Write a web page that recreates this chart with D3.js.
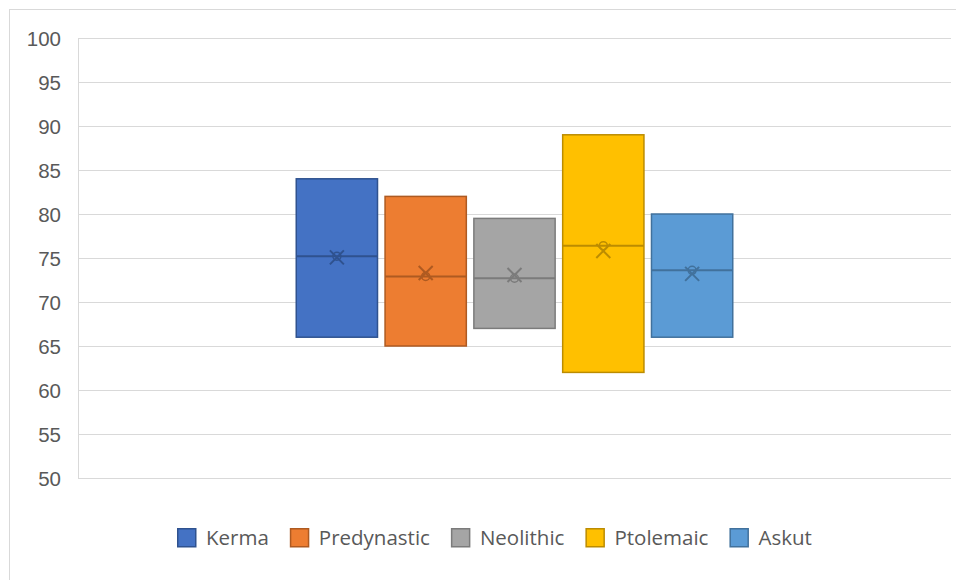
<!DOCTYPE html>
<html>
<head>
<meta charset="utf-8">
<script src="https://cdn.jsdelivr.net/npm/d3@7"></script>
<style>
  html, body { margin: 0; padding: 0; background: #fff; }
  svg { display: block; font-family: "Open Sans", "Noto Sans", sans-serif; }
</style>
</head>
<body>
<svg id="chart" width="956" height="580"></svg>
<script>
// Each series holds three observations (low, middle, high)
const seriesNames = ["Kerma", "Predynastic", "Neolithic", "Ptolemaic", "Askut"];
const lowValues    = [66, 65, 67, 62, 66];
const middleValues = [75.2, 72.9, 72.7, 76.4, 73.6];
const highValues   = [84, 82, 79.5, 89, 80];
const yTicks = [50, 55, 60, 65, 70, 75, 80, 85, 90, 95, 100];

const fills   = ["#4472C4", "#ED7D31", "#A5A5A5", "#FFC000", "#5B9BD5"];
const strokes = ["#2F528F", "#AE5A21", "#7B7B7B", "#BC8C00", "#41719C"];

const svg = d3.select("#chart");
const W = 956, H = 580;
const plot = { left: 78, right: 951, top: 38, bottom: 478 };

// Chart frame
svg.append("rect")
  .attr("x", 9.5).attr("y", 9.5)
  .attr("width", W + 10).attr("height", H + 10)
  .attr("fill", "#fff").attr("stroke", "#D9D9D9").attr("stroke-width", 1);

const y = d3.scaleLinear().domain([50, 100]).range([plot.bottom, plot.top]);

// One category slot spanning the plot; boxes share it side by side
const cat = d3.scaleBand().domain(["all"]).range([plot.left, plot.right]).paddingInner(0).paddingOuter(0.5);
const x = d3.scaleBand().domain(seriesNames)
  .range([cat("all"), cat("all") + cat.bandwidth()])
  .paddingInner(0.085).paddingOuter(0);

// Gridlines and value axis
const yAxis = d3.axisLeft(y).tickValues(yTicks).tickSize(-(plot.right - plot.left)).tickPadding(17);
const gy = svg.append("g").attr("transform", `translate(${plot.left},0)`).call(yAxis);
gy.select(".domain").remove();
gy.selectAll(".tick line").attr("stroke", "#D9D9D9").attr("stroke-width", 1)
  .attr("shape-rendering", "crispEdges");
gy.selectAll(".tick text").attr("fill", "#595959").attr("font-size", 20.5).attr("dy", "0.36em");
svg.append("line")
  .attr("x1", plot.left + 0.5).attr("x2", plot.left + 0.5)
  .attr("y1", plot.top).attr("y2", plot.bottom)
  .attr("stroke", "#D9D9D9").attr("stroke-width", 1);

const data = seriesNames.map((name, i) => {
  const obs = [lowValues[i], middleValues[i], highValues[i]];
  return {
    name, i, obs,
    min: d3.min(obs), max: d3.max(obs),
    median: d3.median(obs), mean: d3.mean(obs)
  };
});

const boxes = svg.append("g").selectAll("g").data(data).join("g");

boxes.append("rect")
  .attr("x", d => x(d.name))
  .attr("y", d => y(d.max))
  .attr("width", x.bandwidth())
  .attr("height", d => y(d.min) - y(d.max))
  .attr("fill", d => fills[d.i])
  .attr("stroke", d => strokes[d.i])
  .attr("stroke-width", 1.5);

// Median line
boxes.append("line")
  .attr("x1", d => x(d.name)).attr("x2", d => x(d.name) + x.bandwidth())
  .attr("y1", d => y(d.median)).attr("y2", d => y(d.median))
  .attr("stroke", d => strokes[d.i]).attr("stroke-width", 2);

// Inner observation points (circles)
boxes.each(function (d) {
  const g = d3.select(this);
  const cx = x(d.name) + x.bandwidth() / 2;
  d.obs.filter(v => v > d.min && v < d.max).forEach(v => {
    g.append("circle")
      .attr("cx", cx).attr("cy", y(v)).attr("r", 4)
      .attr("fill", "none").attr("stroke", strokes[d.i]).attr("stroke-width", 1.5);
  });
});

// Mean marker (X)
const s = 7;
boxes.append("path")
  .attr("d", d => {
    const cx = x(d.name) + x.bandwidth() / 2, cy = y(d.mean);
    return `M${cx - s},${cy - s}L${cx + s},${cy + s}M${cx - s},${cy + s}L${cx + s},${cy - s}`;
  })
  .attr("fill", "none").attr("stroke", d => strokes[d.i]).attr("stroke-width", 2);

// Legend
const legend = svg.append("g");
let lx = 0;
seriesNames.forEach((name, i) => {
  const item = legend.append("g").attr("transform", `translate(${lx},0)`);
  item.append("rect").attr("x", 0.75).attr("y", 0.75).attr("width", 18).attr("height", 18)
    .attr("fill", fills[i]).attr("stroke", strokes[i]).attr("stroke-width", 1.5);
  const t = item.append("text").attr("x", 29).attr("y", 10).attr("dy", "0.36em")
    .attr("fill", "#595959").attr("font-size", 20.5).text(name);
  lx += 29 + t.node().getComputedTextLength() + 21;
});
const legendWidth = lx - 21;
legend.attr("transform", `translate(${Math.round(494 - legendWidth / 2)},528)`);
</script>
</body>
</html>
